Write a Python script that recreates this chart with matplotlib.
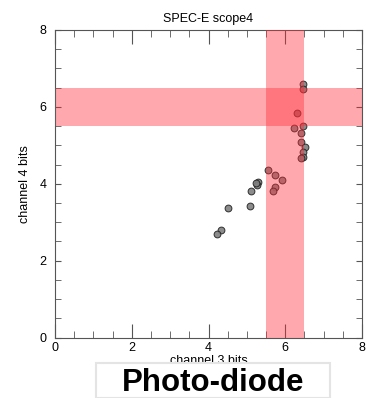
import matplotlib
matplotlib.use("Agg")
import matplotlib.pyplot as plt
from matplotlib.patches import Rectangle
from numpy import arange

plt.rcParams["font.family"] = ["Liberation Sans", "DejaVu Sans"]

# channel 3 / channel 4 readings
ch3 = [6.47, 6.47, 6.31, 6.47, 6.24, 6.41, 6.41, 6.51, 6.46, 6.46, 6.40,
       5.54, 5.72, 5.91, 5.74, 5.67, 5.28, 5.26, 5.25, 5.12, 5.08, 4.51,
       4.32, 4.21]
ch4 = [6.59, 6.46, 5.83, 5.50, 5.44, 5.32, 5.09, 4.96, 4.82, 4.70, 4.67,
       4.35, 4.24, 4.09, 3.91, 3.82, 4.05, 3.97, 4.01, 3.82, 3.42, 3.36,
       2.79, 2.70]
band_x = (5.5, 6.5)
band_y = (5.5, 6.5)

fig = plt.figure(figsize=(3.66, 3.98), dpi=100)
ax = fig.add_axes([55/366, (398-337.5)/398, 307/366, 307.5/398])

ax.scatter(ch3, ch4, s=24, color="#808080", edgecolors="#202020",
           linewidths=0.7, alpha=0.9, zorder=2)
ax.axvspan(*band_x, color="#ff2a36", alpha=0.4, lw=0, zorder=3)
ax.axhspan(*band_y, color="#ff2a36", alpha=0.4, lw=0, zorder=3)

ax.set_xlim(0, 8)
ax.set_ylim(0, 8)
ax.set_xticks([0, 2, 4, 6, 8])
ax.set_yticks([0, 2, 4, 6, 8])
ax.set_xticks(arange(0, 8.01, 0.5), minor=True)
ax.set_yticks(arange(0, 8.01, 0.5), minor=True)
ax.tick_params(which="both", direction="in", top=True, right=True,
               color="#555555", labelsize=9)
ax.tick_params(axis="x", which="major", length=10, pad=3)
ax.tick_params(axis="x", which="minor", length=5)
ax.tick_params(axis="y", which="both", length=4, pad=6)
for spine in ax.spines.values():
    spine.set_color("#555555")

ax.set_title("SPEC-E scope4", fontsize=9, pad=6)
ax.set_xlabel("channel 3 bits", fontsize=9, labelpad=1)
ax.set_ylabel("channel 4 bits", fontsize=9, labelpad=6)

# label box at the bottom
box = Rectangle((96/366, 0), 234/366, 35/398, transform=fig.transFigure,
                facecolor="white", edgecolor="#e4e4e4", lw=1.5, zorder=5)
fig.patches.append(box)
fig.text(213/366, 15/398, "Photo-diode", fontsize=22.5, fontweight="bold",
         ha="center", va="center", zorder=6)

fig.savefig("out.png", dpi=100)
